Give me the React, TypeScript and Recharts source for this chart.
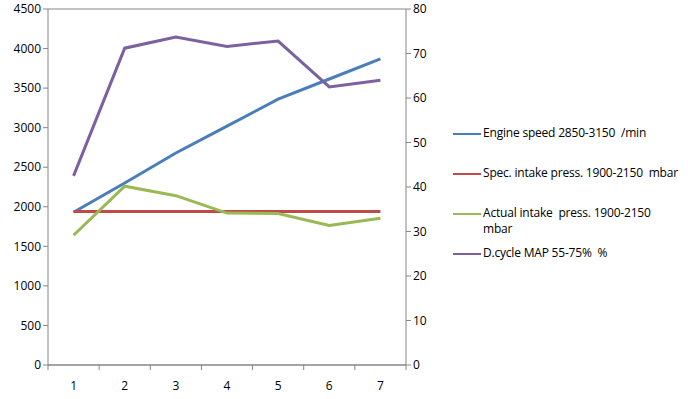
import { LineChart, Line, XAxis, YAxis, CartesianGrid } from "recharts";

const steps = ["1", "2", "3", "4", "5", "6", "7"];
const engineSpeed = [1930, 2300, 2680, 3020, 3360, 3615, 3870];
const specIntake = [1940, 1940, 1940, 1940, 1940, 1940, 1940];
const actualIntake = [1640, 2260, 2140, 1920, 1915, 1765, 1855];
const dutyCycle = [42.5, 71.2, 73.7, 71.6, 72.8, 62.5, 64.0];
const leftTicks = [0, 500, 1000, 1500, 2000, 2500, 3000, 3500, 4000, 4500];
const rightTicks = [0, 10, 20, 30, 40, 50, 60, 70, 80];

const data = steps.map((s, i) => ({
  step: s,
  speed: engineSpeed[i],
  spec: specIntake[i],
  actual: actualIntake[i],
  duty: dutyCycle[i],
}));

const series = [
  { key: "speed", name: ["Engine speed 2850-3150  /min"], color: "#4a7ebb", axis: "left" },
  { key: "spec", name: ["Spec. intake press. 1900-2150  mbar"], color: "#be4b48", axis: "left" },
  { key: "actual", name: ["Actual intake  press. 1900-2150", "mbar"], color: "#98b954", axis: "left" },
  { key: "duty", name: ["D.cycle MAP 55-75%  %"], color: "#7d60a0", axis: "right" },
];

const FONT = "'Open Sans', 'Noto Sans', sans-serif";
const AXIS = "#868686";
const BAND = 358 / 7;

const CategoryTick = (props: any) => {
  const { x, y, payload, index } = props;
  const half = BAND / 2;
  return (
    <g>
      <line x1={x - half} y1={y - 8} x2={x - half} y2={y - 3} stroke={AXIS} />
      {index === steps.length - 1 && (
        <line x1={x + half} y1={y - 8} x2={x + half} y2={y - 3} stroke={AXIS} />
      )}
      <text x={x} y={y + 17} textAnchor="middle" fontSize={12} fill="#000" fontFamily={FONT}>
        {payload.value}
      </text>
    </g>
  );
};

const LegendBox = () => (
  <div
    style={{
      position: "absolute",
      left: 453,
      top: 125,
      fontFamily: FONT,
      fontSize: 12,
      color: "#000",
      whiteSpace: "pre",
      letterSpacing: -0.2,
    }}
  >
    {series.map((s) => (
      <div key={s.key} style={{ display: "flex", alignItems: "flex-start", marginBottom: s.key === "actual" ? 8 : 24 }}>
        <div style={{ width: 28, height: 2, background: s.color, marginTop: 8, marginRight: 2 }} />
        <div style={{ lineHeight: "16px" }}>
          {s.name.map((t) => (
            <div key={t}>{t}</div>
          ))}
        </div>
      </div>
    ))}
  </div>
);

export default function App() {
  return (
    <div style={{ position: "fixed", left: 0, top: 0, width: 688, height: 399, background: "#fff" }}>
      <LineChart width={688} height={399} data={data} margin={{ top: 9, right: 252, bottom: 0, left: 0 }}>
        <CartesianGrid stroke={AXIS} vertical={false} />
        <XAxis
          dataKey="step"
          height={34}
          stroke={AXIS}
          tickLine={false}
          tick={<CategoryTick />}
          interval={0}
          padding={{ left: BAND / 2, right: BAND / 2 }}
        />
        <YAxis
          yAxisId="left"
          domain={[0, 4500]}
          ticks={leftTicks}
          width={48}
          stroke={AXIS}
          tickSize={5}
          tick={{ fill: "#000", fontSize: 12, fontFamily: FONT }}
          interval={0}
        />
        <YAxis
          yAxisId="right"
          orientation="right"
          domain={[0, 80]}
          ticks={rightTicks}
          width={30}
          stroke={AXIS}
          tickSize={5}
          tick={{ fill: "#000", fontSize: 12, fontFamily: FONT }}
          interval={0}
        />
        {series.map((s) => (
          <Line
            key={s.key}
            yAxisId={s.axis}
            dataKey={s.key}
            name={s.name.join(" ")}
            stroke={s.color}
            strokeWidth={3}
            dot={false}
            type="linear"
            isAnimationActive={false}
          />
        ))}
      </LineChart>
      <LegendBox />
    </div>
  );
}
